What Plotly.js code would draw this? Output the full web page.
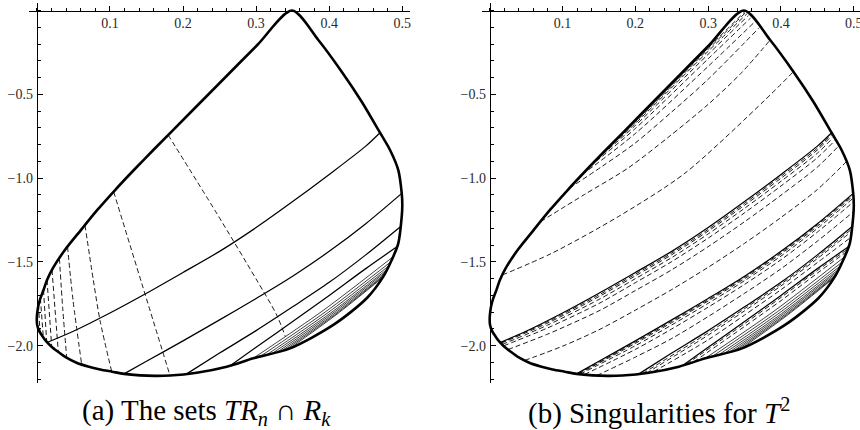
<!DOCTYPE html>
<html>
<head>
<meta charset="utf-8">
<script src="https://cdn.plot.ly/plotly-3.0.1.min.js"></script>
<style>
html,body{margin:0;padding:0;background:#fff;}
#plot{width:860px;height:430px;}
</style>
</head>
<body>
<div id="plot"></div>
<script>
// ---------- data ----------
const xTickVals = [0.1, 0.2, 0.3, 0.4, 0.5];
const xTickText = ['0.1', '0.2', '0.3', '0.4', '0.5'];
const yTickVals = [-2.0, -1.5, -1.0, -0.5];
const yTickText = ['\u22122.0', '\u22121.5', '\u22121.0', '\u22120.5'];
const captionA = '(a) The sets <i>TR</i><sub><i>n</i></sub> \u2229 <i>R</i><sub><i>k</i></sub>';
const captionB = '(b) Singularities for <i>T</i><sup>2</sup>';

// outer boundary of the domain (same in both panels)
const boundary = [
  [0.3491,0.000],[0.3016,-0.2058],[0.2542,-0.4147],[0.2068,-0.6235],[0.1594,-0.8323],[0.1328,-0.9517],
  [0.1071,-1.071],[0.0828,-1.190],[0.0603,-1.310],[0.0384,-1.429],[0.0222,-1.536],[0.0140,-1.608],
  [0.0092,-1.668],[0.0051,-1.715],[0.0023,-1.757],[0.0007,-1.799],[0.0000,-1.835],[0.0005,-1.877],
  [0.0037,-1.916],[0.0082,-1.946],[0.0133,-1.976],[0.0201,-2.006],[0.0290,-2.036],[0.0400,-2.070],
  [0.0536,-2.100],[0.0700,-2.124],[0.0865,-2.142],[0.1029,-2.155],[0.1193,-2.168],[0.1412,-2.177],
  [0.1617,-2.180],[0.1822,-2.178],[0.2187,-2.161],[0.2598,-2.125],[0.2962,-2.075],[0.3464,-2.016],
  [0.4056,-1.876],[0.4513,-1.717],[0.4740,-1.588],[0.4855,-1.489],[0.4945,-1.389],[0.4992,-1.230],
  [0.5000,-1.160],[0.4992,-1.091],[0.4945,-0.952],[0.4832,-0.832],[0.4695,-0.729],[0.4445,-0.544],
  [0.4171,-0.365],[0.3851,-0.176],[0.3491,0.000]
];

// solid singular curves (same in both panels)
const solidS1 = [[0.014,-1.981],[0.05,-1.914],[0.1,-1.805],[0.15,-1.687],[0.2,-1.563],[0.25,-1.437],
  [0.3,-1.295],[0.35,-1.140],[0.4,-0.978],[0.45,-0.809],[0.4695,-0.729]];
const solidS2 = [[0.1193,-2.168],[0.15,-2.093],[0.2,-1.971],[0.25,-1.846],[0.3,-1.718],[0.35,-1.585],
  [0.4,-1.437],[0.45,-1.272],[0.4992,-1.091]];
const solidS3 = [[0.205,-2.168],[0.25,-2.044],[0.3,-1.910],[0.35,-1.768],[0.4,-1.622],[0.45,-1.458],[0.4974,-1.290]];
const solidS4 = [[0.2645,-2.119],[0.3,-2.009],[0.35,-1.856],[0.4,-1.700],[0.45,-1.540],[0.4926,-1.410]];
const fanLines = [
  [[0.296,-2.075],[0.3916,-1.790],[0.4872,-1.470]],
  [[0.306,-2.063],[0.3951,-1.797],[0.4842,-1.500]],
  [[0.315,-2.053],[0.3982,-1.803],[0.4813,-1.525]],
  [[0.323,-2.043],[0.4010,-1.808],[0.4790,-1.545]],
  [[0.330,-2.035],[0.4036,-1.810],[0.4772,-1.560]],
  [[0.336,-2.028],[0.4058,-1.813],[0.4755,-1.575]],
  [[0.341,-2.022],[0.4077,-1.815],[0.4743,-1.585]],
  [[0.346,-2.016],[0.4094,-1.816],[0.4728,-1.595]]
];

// panel (a): dashed curves (boundaries of T R_n)
const dashedTRn = [
  [[0.1797,-0.743],[0.2461,-1.210],[0.3008,-1.608],[0.3282,-1.817],[0.340,-1.945]],
  [[0.1051,-1.081],[0.1437,-1.630],[0.1822,-2.178]],
  [[0.0659,-1.280],[0.0773,-1.608],[0.0865,-1.850],[0.1025,-2.155]],
  [[0.0420,-1.409],[0.0495,-1.727],[0.0614,-2.112]],
  [[0.0309,-1.479],[0.0355,-1.780],[0.0409,-2.072]],
  [[0.0208,-1.548],[0.0294,-2.037]],
  [[0.0140,-1.608],[0.0204,-2.007]],
  [[0.0092,-1.668],[0.0135,-1.977]],
  [[0.0049,-1.718],[0.0089,-1.949]],
  [[0.0023,-1.757],[0.0044,-1.921]]
];

// panel (b): dashed preimages, strip above S1
const dashedStrip1 = [
  [[0.0174,-1.578],[0.085,-1.449],[0.1765,-1.230],[0.268,-0.971],[0.378,-0.534],[0.4171,-0.365]],
  [[0.0697,-1.260],[0.13,-1.098],[0.19,-0.940],[0.245,-0.757],[0.30,-0.560],[0.345,-0.375],[0.3851,-0.176]],
  [[0.1093,-1.061],[0.155,-0.928],[0.2,-0.790],[0.25,-0.605],[0.3,-0.410],[0.370,-0.103]],
  [[0.1267,-0.980],[0.2,-0.734],[0.3,-0.333],[0.3634,-0.070]],
  [[0.1376,-0.930],[0.2,-0.704],[0.3,-0.288],[0.3582,-0.045]],
  [[0.1466,-0.890],[0.2,-0.686],[0.3,-0.261],[0.3552,-0.030]],
  [[0.1532,-0.860],[0.2,-0.674],[0.3,-0.243],[0.3531,-0.020]],
  [[0.1577,-0.840],[0.2,-0.666],[0.3,-0.231],[0.3515,-0.012]],
  [[0.1611,-0.825],[0.2,-0.661],[0.3,-0.223],[0.3504,-0.007]]
];
// strip between S1 and S2
const dashedStrip2 = [
  [[0.048,-2.088],[0.1,-2.003],[0.15,-1.905],[0.2,-1.788],[0.25,-1.665],[0.3,-1.532],[0.35,-1.389],[0.4,-1.235],[0.45,-1.068],[0.4898,-0.902]],
  [[0.025,-2.023],[0.08,-1.930],[0.15,-1.792],[0.2,-1.671],[0.25,-1.547],[0.3,-1.409],[0.35,-1.260],[0.4,-1.102],[0.45,-0.934],[0.4797,-0.806]],
  [[0.019,-2.001],[0.08,-1.893],[0.15,-1.748],[0.2,-1.624],[0.25,-1.498],[0.3,-1.358],[0.35,-1.207],[0.4,-1.047],[0.45,-0.878],[0.4751,-0.771]],
  [[0.017,-1.993],[0.08,-1.876],[0.15,-1.724],[0.2,-1.600],[0.25,-1.474],[0.3,-1.333],[0.35,-1.180],[0.4,-1.019],[0.45,-0.851],[0.4727,-0.753]],
  [[0.0155,-1.986],[0.08,-1.864],[0.15,-1.707],[0.2,-1.583],[0.25,-1.457],[0.3,-1.316],[0.35,-1.162],[0.4,-1.001],[0.45,-0.832],[0.4711,-0.741]],
  [[0.0148,-1.983],[0.08,-1.856],[0.15,-1.697],[0.2,-1.573],[0.25,-1.447],[0.3,-1.306],[0.35,-1.151],[0.4,-0.989],[0.45,-0.821],[0.4703,-0.735]]
];
// strip between S2 and S3
const dashedStrip3 = [
  [[0.147,-2.178],[0.2,-2.068],[0.25,-1.957],[0.3,-1.826],[0.35,-1.687],[0.4,-1.541],[0.45,-1.376],[0.4997,-1.200]],
  [[0.130,-2.172],[0.2,-2.022],[0.25,-1.900],[0.3,-1.770],[0.35,-1.634],[0.4,-1.487],[0.45,-1.322],[0.4999,-1.140]],
  [[0.124,-2.170],[0.2,-2.000],[0.25,-1.876],[0.3,-1.747],[0.35,-1.612],[0.4,-1.465],[0.45,-1.300],[0.4996,-1.118]],
  [[0.122,-2.169],[0.2,-1.986],[0.25,-1.862],[0.3,-1.733],[0.35,-1.600],[0.4,-1.452],[0.45,-1.287],[0.4994,-1.105]],
  [[0.1205,-2.169],[0.2,-1.979],[0.25,-1.854],[0.3,-1.726],[0.35,-1.592],[0.4,-1.444],[0.45,-1.279],[0.4993,-1.098]]
];
// strip between S3 and S4
const dashedStrip4 = [
  [[0.225,-2.155],[0.3,-1.965],[0.35,-1.817],[0.4,-1.666],[0.45,-1.504],[0.4955,-1.355]],
  [[0.215,-2.164],[0.3,-1.937],[0.35,-1.792],[0.4,-1.643],[0.45,-1.480],[0.4966,-1.320]],
  [[0.210,-2.166],[0.3,-1.923],[0.35,-1.779],[0.4,-1.632],[0.45,-1.469],[0.4970,-1.305]]
];
// strip between S4 and the first fan curve
const dashedStrip5 = [
  [[0.280,-2.097],[0.35,-1.885],[0.4,-1.731],[0.45,-1.567],[0.4899,-1.440]],
  [[0.270,-2.111],[0.35,-1.868],[0.4,-1.712],[0.45,-1.551],[0.4913,-1.425]]
];

// ---------- drawing ----------
const traces = [];
function addCurve(pts, ax, style) {
  traces.push({
    type: 'scatter', mode: 'lines',
    x: pts.map(p => p[0]), y: pts.map(p => p[1]),
    xaxis: ax[0], yaxis: ax[1],
    line: Object.assign({color: '#000', shape: 'spline', smoothing: 0.8}, style),
    hoverinfo: 'skip', showlegend: false
  });
}
const A = ['x', 'y'], B = ['x2', 'y2'];
const solidStyle = {width: 1.25};
const fanStyle = {width: 0.75};
const dashStyle = {width: 0.9, dash: '5px,3px'};
const boundaryStyle = {width: 2.6};

// panel (a)
dashedTRn.forEach(c => addCurve(c, A, dashStyle));
[solidS1, solidS2, solidS3, solidS4].forEach(c => addCurve(c, A, solidStyle));
fanLines.forEach(c => addCurve(c, A, fanStyle));
addCurve(boundary, A, boundaryStyle);

// panel (b)
[dashedStrip1, dashedStrip2, dashedStrip3, dashedStrip4, dashedStrip5].forEach(g => g.forEach(c => addCurve(c, B, dashStyle)));
[solidS1, solidS2, solidS3, solidS4].forEach(c => addCurve(c, B, solidStyle));
fanLines.forEach(c => addCurve(c, B, fanStyle));
addCurve(boundary, B, boundaryStyle);

function tickFont() { return {family: 'Liberation Serif', size: 14, color: '#2a2a2a'}; }
function xAxis(domain, range, pos) {
  return {
    domain: domain, range: range, anchor: 'free', position: pos, side: 'bottom',
    showline: true, linecolor: '#000', linewidth: 1, showgrid: false, zeroline: false,
    ticks: 'inside', ticklen: 5, tickwidth: 1, tickcolor: '#000',
    tickmode: 'array', tickvals: xTickVals, ticktext: xTickText, tickfont: tickFont(),
    ticklabeloverflow: 'allow',
    minor: {tick0: 0, dtick: 0.02, ticks: 'inside', ticklen: 3, tickwidth: 1, tickcolor: '#000', showgrid: false},
    fixedrange: true
  };
}
function yAxis(domain, range, pos) {
  return {
    domain: domain, range: range, anchor: 'free', position: pos, side: 'left',
    showline: true, linecolor: '#000', linewidth: 1, showgrid: false, zeroline: false,
    ticks: 'inside', ticklen: 5.5, tickwidth: 1, tickcolor: '#000',
    tickmode: 'array', tickvals: yTickVals, ticktext: yTickText, tickfont: tickFont(),
    ticklabeloverflow: 'allow', ticklabelstandoff: 1,
    minor: {tick0: 0, dtick: 0.1, ticks: 'inside', ticklen: 3, tickwidth: 1, tickcolor: '#000', showgrid: false},
    fixedrange: true
  };
}
const yDomain = [0.1093, 0.9923];
const yRange = [-2.2225, 0.043];
const xPos = 0.97558;
const capFont = {family: 'Liberation Serif', size: 29, color: '#000'};

const layout = {
  width: 860, height: 430,
  margin: {l: 0, r: 0, t: 0, b: 0, pad: 0},
  paper_bgcolor: '#fff', plot_bgcolor: 'rgba(0,0,0,0)',
  showlegend: false,
  xaxis: xAxis([0.0343, 0.4763], [-0.01, 0.51], xPos),
  yaxis: yAxis(yDomain, yRange, 0.04279),
  xaxis2: xAxis([0.5601, 1.0], [-0.011, 0.5085], xPos),
  yaxis2: yAxis(yDomain, yRange, 0.56953),
  annotations: [
    {text: captionA, xref: 'paper', yref: 'paper', x: 0.2405, y: 0.0426, xanchor: 'center', yanchor: 'middle',
     showarrow: false, font: capFont},
    {text: captionB, xref: 'paper', yref: 'paper', x: 0.7663, y: 0.0426, xanchor: 'center', yanchor: 'middle',
     showarrow: false, font: capFont}
  ]
};

Plotly.newPlot('plot', traces, layout, {staticPlot: true, displayModeBar: false});
</script>
</body>
</html>
